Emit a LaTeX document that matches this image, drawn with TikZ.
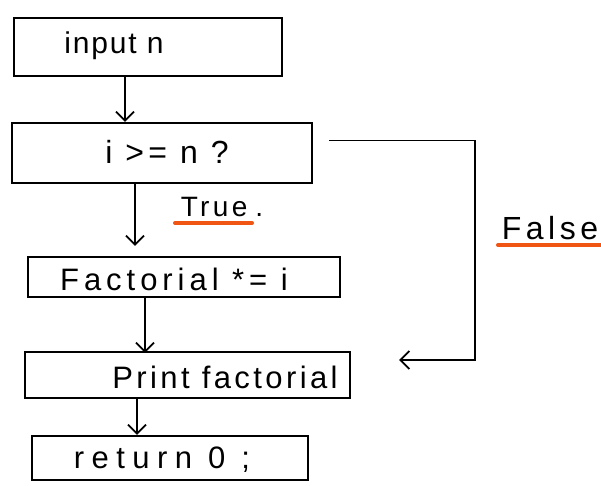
\documentclass[tikz,border=0pt]{standalone}
\usepackage{fontspec}
\setmainfont{Liberation Sans}
\usetikzlibrary{arrows.meta,calc}
\definecolor{hl}{RGB}{240,85,20}
\tikzset{
  box/.style={draw=black, line width=2.2pt, rectangle, inner sep=0pt},
  txt/.style={inner sep=0pt},
  flow/.style={draw=black, line width=1.8pt, -{Straight Barb[length=9pt,width=18pt,line width=1.8pt]}},
  under/.style={draw=hl, line width=4pt, line cap=round}
}
\newcommand{\hw}[2]{\fontsize{#1}{#1}\selectfont\addfontfeature{LetterSpace=#2}}
\begin{document}
\begin{tikzpicture}[x=1pt,y=-1pt]
\useasboundingbox (0,0) rectangle (601,485);
% boxes
\node[box, minimum width=268pt, minimum height=58pt] (inp) at (148,47) {};
\node[box, minimum width=300pt, minimum height=60pt] (cond) at (162,153) {};
\node[box, minimum width=312pt, minimum height=40pt] (fact) at (184,277) {};
\node[box, minimum width=325pt, minimum height=46pt] (print) at (187.5,375) {};
\node[box, minimum width=276pt, minimum height=44pt] (ret) at (170,458) {};
% texts
\node[txt, font=\hw{30}{6}] (tinp) at (114,46) {input n};
\node[txt, font=\hw{32}{13}] (tcond) at (167,152) {i >= n ?};
\node[txt, font=\hw{31}{16}] (tfact) at (174,279) {Factorial *= i};
\node[txt, font=\hw{31}{11}] (tprint) at (225,377) {Print factorial};
\node[txt, font=\hw{31}{24}] (tret) at (162,460) {return 0 ;};
\node[txt, font=\hw{28}{12}] (ttrue) at (222,207) {True\hspace{8pt}.};
\node[txt, font=\hw{32}{14}] (tfalse) at (550,228) {False};
\coordinate (u1) at (175,223);
\coordinate (u2) at (252,223);
\coordinate (u3) at (498,245);
\coordinate (u4) at (601,245);
\draw[under] (u1) -- (u2);
\draw[under] (u3) -- (u4);
% connectors
\draw[flow] ([xshift=-23pt]inp.south) -- ([xshift=-37pt]cond.north);
\draw[flow] ([xshift=-27pt]cond.south) -- ([xshift=-49pt,yshift=10pt]fact.north);
\draw[flow] ([xshift=-39pt]fact.south) -- ([xshift=-42.5pt,yshift=-2pt]print.north);
\draw[flow] ([xshift=-50.5pt]print.south) -- ([xshift=-33pt]ret.north);
\coordinate (fs) at ([xshift=16pt,yshift=12.5pt]cond.east);
\coordinate (fe) at ([xshift=48pt,yshift=15pt]print.east);
\draw[flow] (fs) -- (fs -| 475,0) -- (fe -| 475,0) -- (fe);
\end{tikzpicture}
\end{document}
